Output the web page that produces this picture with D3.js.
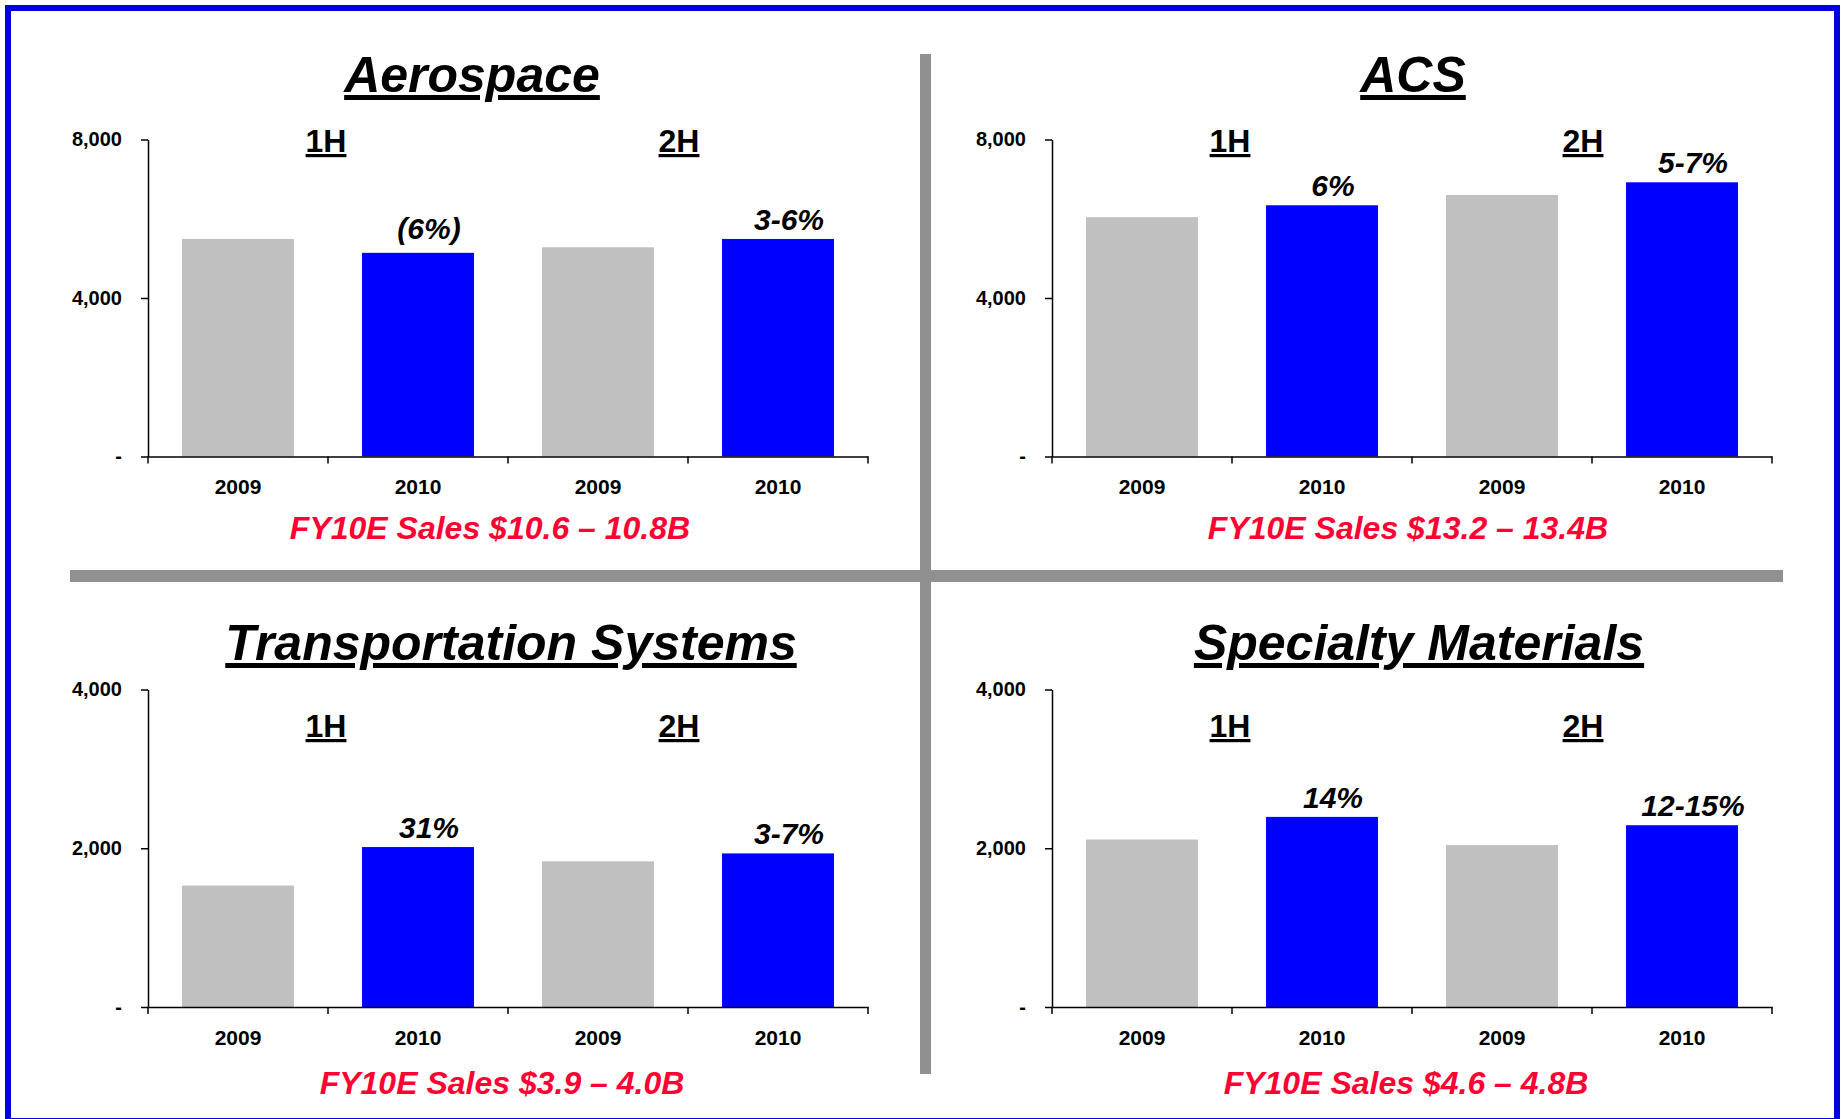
<!DOCTYPE html>
<html>
<head>
<meta charset="utf-8">
<script src="https://cdn.jsdelivr.net/npm/d3@7"></script>
<style>
  body { margin: 0; background: #fff; }
  text { font-family: "Liberation Sans", Arial, sans-serif; font-weight: bold; }
</style>
</head>
<body>
<div id="chart"></div>
<script>
// data (sales, $M)
var categories = ["2009", "2010", "2009", "2010"];
var halves = ["1H", "2H"];
var titles = ["Aerospace", "ACS", "Transportation Systems", "Specialty Materials"];
var notes = ["FY10E Sales $10.6 \u2013 10.8B", "FY10E Sales $13.2 \u2013 13.4B",
             "FY10E Sales $3.9 \u2013 4.0B", "FY10E Sales $4.6 \u2013 4.8B"];

var aerospace = [5490, 5140, 5280, 5490];
var acs = [6040, 6340, 6600, 6920];
var transportation = [1530, 2015, 1835, 1935];
var specialty = [2110, 2395, 2040, 2290];

var aerospaceGrowth = ["", "(6%)", "", "3-6%"];
var acsGrowth = ["", "6%", "", "5-7%"];
var transportationGrowth = ["", "31%", "", "3-7%"];
var specialtyGrowth = ["", "14%", "", "12-15%"];

var bigTicks = [0, 4000, 8000];
var smallTicks = [0, 2000, 4000];

var series = [aerospace, acs, transportation, specialty];
var growth = [aerospaceGrowth, acsGrowth, transportationGrowth, specialtyGrowth];
var ticks = [bigTicks, bigTicks, smallTicks, smallTicks];

// where each panel sits on the page
var layout = [
    {x0: 148, top: 139.5, bottom: 456.5, titleX: 472, titleY: 92, halfY: 152, noteX: 490, noteY: 539},
    {x0: 1052, top: 139.5, bottom: 456.5, titleX: 1413, titleY: 92, halfY: 152, noteX: 1408, noteY: 539},
    {x0: 148, top: 689.5, bottom: 1007, titleX: 511, titleY: 660, halfY: 737, noteX: 502, noteY: 1094},
    {x0: 1052, top: 689.5, bottom: 1007, titleX: 1419, titleY: 660, halfY: 737, noteX: 1406, noteY: 1094}
];
var plotWidth = 720;
var barColors = ["#c0c0c0", "#0000ff", "#c0c0c0", "#0000ff"];

var svg = d3.select("#chart")
    .append("svg")
    .attr("width", 1841)
    .attr("height", 1119);

svg.append("rect")
    .attr("width", 1841).attr("height", 1119)
    .attr("fill", "#fff");

// frame
svg.append("rect")
    .attr("x", 8).attr("y", 8)
    .attr("width", 1829).attr("height", 1113)
    .attr("fill", "none")
    .attr("stroke", "#0000e0")
    .attr("stroke-width", 6);

// grey cross dividing the quadrants
svg.append("rect")
    .attr("x", 920).attr("y", 54).attr("width", 11).attr("height", 1020)
    .attr("fill", "#909090");
svg.append("rect")
    .attr("x", 70).attr("y", 570).attr("width", 1713).attr("height", 12)
    .attr("fill", "#909090");

series.forEach(function(values, p) {
    var L = layout[p];
    var g = svg.append("g");

    var x = d3.scaleBand()
        .domain(d3.range(categories.length))
        .range([L.x0, L.x0 + plotWidth])
        .paddingInner(0.378)
        .paddingOuter(0.189);

    var yMax = d3.max(ticks[p]);
    var y = d3.scaleLinear()
        .domain([0, yMax])
        .range([L.bottom, L.top]);

    // bars
    g.selectAll(".bar")
        .data(values)
        .enter()
        .append("rect")
        .attr("x", function(d, i) { return x(i); })
        .attr("y", function(d) { return y(d); })
        .attr("width", x.bandwidth())
        .attr("height", function(d) { return y(0) - y(d); })
        .attr("fill", function(d, i) { return barColors[i]; });

    // y axis
    var yAxis = g.append("g")
        .attr("transform", "translate(" + L.x0 + ",0)")
        .call(d3.axisLeft(y)
            .tickValues(ticks[p])
            .tickSize(7)
            .tickSizeOuter(0)
            .tickPadding(19)
            .tickFormat(function(d) { return d === 0 ? "-" : d3.format(",")(d); }));
    yAxis.selectAll("text").attr("font-size", 20).attr("fill", "#000")
        .style("font-family", "'Liberation Sans', Arial, sans-serif");
    yAxis.selectAll("line, path").attr("stroke", "#000").attr("stroke-width", 1.5);

    // x axis: labels at band centres, ticks at band edges
    var xAxis = g.append("g")
        .attr("transform", "translate(0," + L.bottom + ")")
        .call(d3.axisBottom(x)
            .tickSize(0)
            .tickSizeOuter(0)
            .tickPadding(23)
            .tickFormat(function(i) { return categories[i]; }));
    xAxis.selectAll("text").attr("font-size", 21).attr("fill", "#000")
        .style("font-family", "'Liberation Sans', Arial, sans-serif");
    xAxis.select("path").attr("stroke", "#000").attr("stroke-width", 1.5);

    var edges = d3.range(categories.length + 1).map(function(i) { return L.x0 + i * x.step(); });
    g.selectAll(".xtick")
        .data(edges)
        .enter()
        .append("line")
        .attr("x1", function(d) { return d; })
        .attr("x2", function(d) { return d; })
        .attr("y1", L.bottom)
        .attr("y2", L.bottom + 7)
        .attr("stroke", "#000")
        .attr("stroke-width", 1.5);

    // growth labels over the 2010 bars (bracketed ones sit a bit higher)
    g.selectAll(".growth")
        .data(values)
        .enter()
        .append("text")
        .attr("x", function(d, i) { return x(i) + x.bandwidth() / 2 + 11; })
        .attr("y", function(d, i) { return y(d) - (growth[p][i].charAt(0) === "(" ? 14 : 9); })
        .attr("text-anchor", "middle")
        .attr("font-size", 30)
        .attr("font-style", "italic")
        .text(function(d, i) { return growth[p][i]; });

    // 1H / 2H headers
    g.selectAll(".half")
        .data(halves)
        .enter()
        .append("text")
        .attr("x", function(d, h) { return L.x0 + (2 * h + 1) * x.step() - (h ? 9 : 2); })
        .attr("y", L.halfY)
        .attr("text-anchor", "middle")
        .attr("font-size", 32)
        .style("text-decoration", "underline")
        .text(function(d) { return d; });

    // panel title
    g.append("text")
        .attr("x", L.titleX)
        .attr("y", L.titleY)
        .attr("text-anchor", "middle")
        .attr("font-size", 50)
        .attr("font-style", "italic")
        .style("text-decoration", "underline")
        .text(titles[p]);

    // red sales note
    g.append("text")
        .attr("x", L.noteX)
        .attr("y", L.noteY)
        .attr("text-anchor", "middle")
        .attr("font-size", 32)
        .attr("font-style", "italic")
        .attr("fill", "#ff0033")
        .text(notes[p]);
});
</script>
</body>
</html>
